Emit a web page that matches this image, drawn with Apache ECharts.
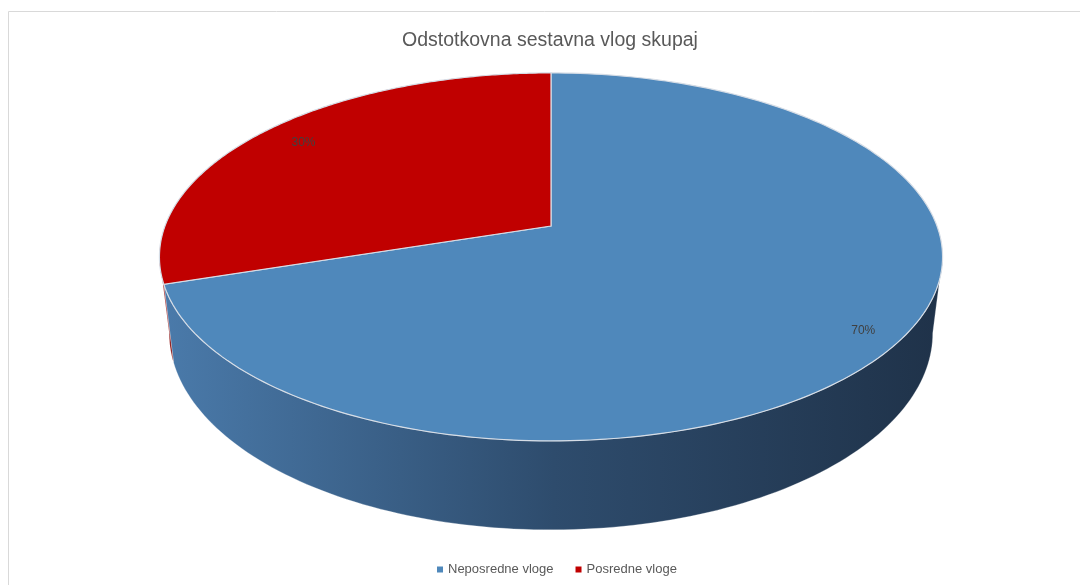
<!DOCTYPE html>
<html>
<head>
<meta charset="utf-8">
<script src="https://cdn.jsdelivr.net/npm/echarts@6/dist/echarts.min.js"></script>
<style>
html,body{margin:0;padding:0;background:#fff;}
#main{width:1080px;height:585px;}
</style>
</head>
<body>
<div id="main"></div>
<script>
const titleText = 'Odstotkovna sestavna vlog skupaj';
const categories = ['Neposredne vloge', 'Posredne vloge'];
const values = [70, 30];
const topColors = ['#4f88bb', '#c00000'];
const sideColorsLeft = ['#4a7aaa', '#a00000'];
const sideColorsRight = ['#1f3249', '#7a0000'];

const chart = echarts.init(document.getElementById('main'));

// projection parameters (pseudo-perspective 3D pie)
const G = { cx: 551, cy: 226, b: 386, a: 178.8, k: 0.168, depth: 74, bx: 0.975 };
const total = values.reduce((s, v) => s + v, 0);
const starts = [];
let acc = 0;
values.forEach(v => { starts.push(acc / total * Math.PI * 2); acc += v; });

function proj(phi, r, bottom) {
  const x = Math.sin(phi) * r, z = -Math.cos(phi) * r;
  const s = 1 / (1 - G.k * z);
  let sx = G.cx + G.b * x * s;
  let sy = G.cy + G.a * z * s;
  if (bottom) {
    sx = G.cx + (sx - G.cx) * G.bx;
    sy = sy + G.depth * s;
  }
  return [sx, sy];
}

const visLo = Math.acos(-G.k);
const visHi = Math.PI * 2 - Math.acos(-G.k);

function sideItem(params, api) {
  const i = params.dataIndex;
  const v = api.value(0);
  const p1 = starts[i], p2 = p1 + v / total * Math.PI * 2;
  const lo = Math.max(p1, visLo), hi = Math.min(p2, visHi);
  if (hi <= lo) return { type: 'group', children: [] };
  const n = 120, pts = [];
  for (let j = 0; j <= n; j++) pts.push(proj(lo + (hi - lo) * j / n, 1, false));
  for (let j = n; j >= 0; j--) pts.push(proj(lo + (hi - lo) * j / n, 1, true));
  return {
    type: 'polygon',
    shape: { points: pts },
    style: {
      fill: new echarts.graphic.LinearGradient(0, 0, 1, 0, [
        { offset: 0, color: sideColorsLeft[i] },
        { offset: 0.5, color: i === 0 ? '#2e4c6d' : '#8a0000' },
        { offset: 1, color: sideColorsRight[i] }
      ]),
      stroke: 'rgba(255,255,255,0.35)',
      lineWidth: 0.8
    }
  };
}

function topItem(params, api) {
  const i = params.dataIndex;
  const v = api.value(0);
  const p1 = starts[i], p2 = p1 + v / total * Math.PI * 2;
  const n = 200, pts = [proj(0, 0, false)];
  for (let j = 0; j <= n; j++) pts.push(proj(p1 + (p2 - p1) * j / n, 1, false));
  const mid = (p1 + p2) / 2;
  const lp = proj(mid, i === 0 ? 0.91 : 0.86, false);
  return {
    type: 'group',
    children: [
      {
        type: 'polygon',
        shape: { points: pts },
        style: { fill: topColors[i], stroke: '#d6dde6', lineWidth: 1.2 }
      },
      {
        type: 'text',
        x: lp[0], y: lp[1],
        style: {
          text: Math.round(v / total * 100) + '%',
          fill: '#404040',
          font: '12px "Liberation Sans", Arial, sans-serif',
          align: 'center',
          verticalAlign: 'middle'
        }
      }
    ]
  };
}

const sliceData = categories.map((c, i) => ({ name: c, value: values[i] }));

chart.setOption({
  animation: false,
  title: {
    text: titleText,
    left: 397,
    top: 26,
    textStyle: { color: '#595959', fontSize: 19.5, fontWeight: 'normal', fontFamily: 'Liberation Sans' }
  },
  legend: {
    bottom: 4,
    left: 432,
    icon: 'rect',
    itemWidth: 6,
    itemHeight: 6,
    itemGap: 22,
    data: categories,
    textStyle: { color: '#595959', fontSize: 13, fontFamily: 'Liberation Sans' }
  },
  graphic: [{
    type: 'rect',
    shape: { x: 8.5, y: 11.5, width: 1200, height: 700 },
    style: { fill: 'none', stroke: '#d9d9d9', lineWidth: 1 },
    silent: true,
    z: -10
  }],
  series: [
    {
      type: 'pie',
      name: 'legendProxy',
      radius: [0, 0],
      silent: true,
      label: { show: false },
      labelLine: { show: false },
      data: categories.map((c, i) => ({ name: c, value: values[i], itemStyle: { color: topColors[i] } }))
    },
    {
      type: 'custom',
      coordinateSystem: 'none',
      renderItem: sideItem,
      data: sliceData,
      z: 1
    },
    {
      type: 'custom',
      coordinateSystem: 'none',
      renderItem: topItem,
      data: sliceData,
      z: 2
    }
  ]
});
</script>
</body>
</html>
